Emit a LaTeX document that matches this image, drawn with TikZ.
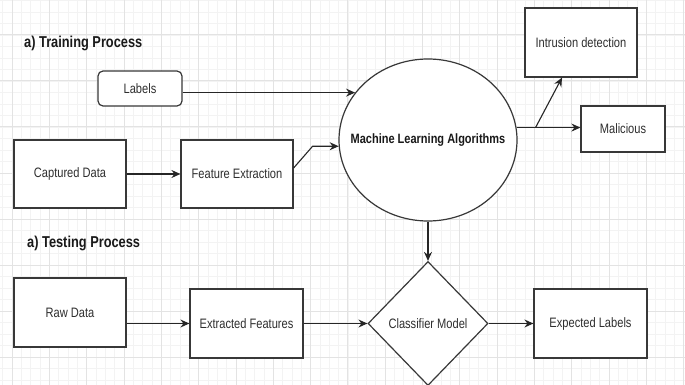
\documentclass[tikz,border=0pt]{standalone}
\usepackage{fontspec}
\usepackage{graphicx}
\setmainfont{Liberation Sans}
\usetikzlibrary{shapes.geometric,arrows.meta}

\definecolor{gridminor}{HTML}{F3F3F3}
\definecolor{gridmajor}{HTML}{E3E3E3}
\definecolor{edge}{HTML}{383838}
\definecolor{ink}{HTML}{2E2E2E}

% text is set slightly taller than wide
\newcommand{\tx}[1]{\scalebox{1}[1.23]{#1}}
% text that does not widen its shape
\newcommand{\ctx}[1]{\makebox[0pt]{\tx{#1}}}

\tikzset{
  base/.style={draw=edge, line width=1.2pt, fill=white, text=ink, inner sep=0pt,
    font=\fontsize{11.1}{13}\selectfont},
  box/.style={base, rectangle, minimum width=#1},
  box/.default=112pt,
  roundbox/.style={base, rectangle, rounded corners=5pt, minimum width=84pt, minimum height=35pt},
  oval/.style={base, ellipse, minimum width=178pt, minimum height=162pt,
    font=\fontsize{11}{13}\selectfont\bfseries, text=black!90},
  decision/.style={base, diamond, aspect=1, minimum width=120pt, minimum height=124pt},
  heading/.style={anchor=west, inner sep=0pt, text=black!90,
    font=\fontsize{12.8}{15}\selectfont\bfseries},
  arr/.style={draw=black!85, line width=1.1pt, -{Stealth[length=9pt,width=8pt,inset=3pt]}},
  minor/.style={draw=gridminor, line width=0.8pt},
  major/.style={draw=gridmajor, line width=1pt}
}

\begin{document}
\begin{tikzpicture}[x=1pt,y=-1pt]
\useasboundingbox (0,0) rectangle (685,385);
\fill[white] (0,0) rectangle (685,385);

% background grid
\foreach \i in {-1,...,72} \draw[minor] ({12.2+9.325*\i},0) -- ({12.2+9.325*\i},385);
\foreach \j in {0,...,34} \draw[minor] (0,{-11+11.5*\j}) -- (685,{-11+11.5*\j});
\foreach \i in {0,...,18} \draw[major] ({12.2+37.3*\i},0) -- ({12.2+37.3*\i},385);
\foreach \j in {-1,...,7} \draw[major] (0,{35+46*\j}) -- (685,{35+46*\j});

% training process
\node[heading] (train) at (24,43) {\tx{a) Training Process}};
\node[roundbox] (labels) at (140,88.5) {\tx{Labels}};
\node[box, minimum height=68pt] (cap) at (70,174) {\tx{Captured Data}};
\node[box, minimum height=68pt] (feat) at (237,174) {\tx{Feature Extraction}};
\node[oval] (ml) at (428,140) {\ctx{Machine Learning Algorithms}};
\node[box, minimum height=69pt] (intr) at (581,42.5) {\tx{Intrusion detection}};
\node[box=84pt, minimum height=46pt] (mal) at (623,129) {\tx{Malicious}};

% testing process
\node[heading] (test) at (27,243) {\tx{a) Testing Process}};
\node[box, minimum height=69pt] (raw) at (70,312.5) {\tx{Raw Data}};
\node[box=113pt, minimum height=69pt] (ext) at (246.5,323.5) {\tx{Extracted Features}};
\node[decision] (cls) at (428,323.5) {\ctx{Classifier Model}};
\node[box=113pt, minimum height=69pt] (exp) at (590.5,323.5) {\tx{Expected Labels}};

% connectors
\draw[arr] (ml.147 -| labels.east) -- (ml.147);
\draw[arr] (cap) -- (feat);
\draw[arr] ([yshift=6pt]feat.east) -- ([xshift=19pt]feat.east |- ml.184) -- (ml.184);
\draw[arr] (ml.8) -- (ml.8 -| mal.west);
\draw[arr] ([xshift=19pt]ml.8) -- ([xshift=-19pt]intr.south);
\draw[arr] (ml) -- (cls);
\draw[arr] (ext.west -| raw.east) -- (ext.west);
\draw[arr] (ext.east) -- (cls.west);
\draw[arr] (cls.east) -- (exp.west);
\end{tikzpicture}
\end{document}
